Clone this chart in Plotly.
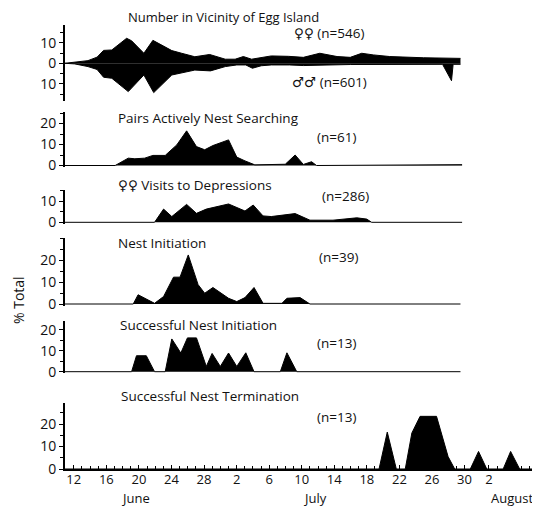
import plotly.graph_objects as go

# ---------------- data (x = day counted from 1 June; July d = 30+d, Aug d = 61+d) ----------------
fem_days = [10.92, 12.13, 13.74, 14.86, 15.66, 16.67, 18.49, 19.1, 20.61, 21.72, 24.04, 25.25, 26.87,
            28.69, 29.7, 30.61, 31.82, 32.83, 33.84, 35.04, 36.26, 38.38, 40.2, 42.22, 44.34, 45.96,
            47.37, 48.79, 50.81, 54.95, 57.77, 59.5]
fem_vals = [0, 0.5, 1.3, 3, 6.3, 6.5, 12.2, 11, 4.9, 11.2, 6.2, 4.9, 3.2,
            4.3, 3, 2, 2, 3.3, 2, 2.8, 3.6, 3.4, 2.9, 4.9, 3.3, 2.9,
            4.9, 4.1, 3.3, 2.7, 2.4, 2.4]

male_days = [10.92, 12.13, 13.74, 14.86, 15.66, 16.67, 18.69, 20.61, 21.82, 24.04, 26.87, 28.79, 30.61,
             32.02, 33.13, 33.94, 35.04, 36.26, 38.48, 40.2, 45.96, 50.81, 57.3, 58.4, 58.6, 59.5]
male_vals = [0, -0.3, -1.6, -3, -6.8, -7.3, -13.8, -5.7, -14.3, -5.7, -3.3, -3.7, -1.6,
             -0.8, -0.8, -2.4, -1.2, -0.8, -0.8, -1.1, -0.6, -0.5, -0.5, -8.5, -0.5, -0.5]

search_days = [10.92, 17.08, 18.69, 19.5, 20.71, 21.72, 23.23, 24.65, 25.86, 27.07, 28.08, 29.09, 31.01,
               32.02, 33.03, 34.24, 37.98, 39.19, 40.2, 41.21, 41.82, 59.7]
search_vals = [0, 0, 3.5, 3.2, 3.5, 4.8, 4.8, 9.8, 16.5, 9, 7.5, 9.5, 12.2,
               4, 2.2, 0.3, 0.6, 5, 0.5, 1.8, 0, 0.4]

visit_days = [10.92, 21.92, 23.03, 24.04, 25.86, 27.07, 28.28, 31.01, 33.03, 34.04, 35.25, 36.26, 39.19,
              41.01, 43.84, 46.77, 47.98, 48.59, 59.7]
visit_vals = [0, 0, 6.2, 2.7, 8.4, 4.2, 6.2, 8.6, 5.3, 8.1, 3, 2.7, 4.1,
              1, 1, 2.1, 1.5, 0, 0]

init_days = [10.92, 19.3, 19.9, 21.92, 23.03, 24.25, 25.05, 26.06, 27.27, 28.08, 29.09, 31.01, 32.02,
             33.03, 34.14, 35.25, 37.57, 38.18, 39.8, 41.01, 59.5]
init_vals = [0, 0, 4.2, 0.3, 3.4, 12.2, 12.2, 22.3, 8.8, 4.9, 7.5, 2.6, 1.1,
             2.9, 7.5, 0.3, 0.3, 2.6, 2.9, 0, 0]

succ_init_days = [10.92, 19.1, 19.7, 20.91, 21.92, 23.23, 24.04, 25.15, 25.96, 27.07, 28.28, 28.99, 30.0,
                  31.01, 32.02, 33.13, 34.14, 37.37, 38.18, 39.39, 59.5]
succ_init_vals = [0, 0, 7.6, 7.6, 0, 0, 15.6, 8.9, 16.1, 16.1, 2.5, 8.7, 2.5,
                  8.9, 2.5, 9, 0, 0, 9, 0, 0]

succ_term_days = [10.92, 49.5, 50.51, 51.62, 52.72, 53.53, 54.54, 56.56, 57.98, 58.79, 60.71, 61.72,
                  62.73, 64.75, 65.66, 66.77, 69.27]
succ_term_vals = [0, 0, 16.4, 0, 0, 16, 23.4, 23.4, 5.5, 0, 0, 7.8,
                  0, 0, 7.8, 0, 0]

x_tick_days = [12, 16, 20, 24, 28, 32, 36, 40, 44, 48, 52, 56, 60, 63]
x_tick_text = ["12", "16", "20", "24", "28", "2", "6", "10", "14", "18", "22", "26", "30", "2"]

panel_titles = ["Number in Vicinity of Egg Island", "Pairs Actively Nest Searching",
                "\u2640\u2640 Visits to Depressions", "Nest Initiation",
                "Successful Nest Initiation", "Successful Nest Termination"]
n_labels = ["(n=61)", "(n=286)", "(n=39)", "(n=13)", "(n=13)"]

# ---------------- layout geometry ----------------
W, H = 540, 507
OFF = 8                      # page body margin offset (screen px -> figure px)
L = 65 - OFF                 # left spine at screen x=65
R = OFF                      # axis runs to screen x=540
FONT = "Open Sans, DejaVu Sans, sans-serif"
INK = "#111111"

def py(px):
    return 1 - (px - OFF) / H

def pxx(px):
    return (px - OFF - L) / (W - L - R)

# (zero pixel, pixels per unit, ymin, ymax, tickvals, ticktext)  -- screen pixels
panels = [
    (63.3, 2.05, -18.5, 18.5, [-10, 0, 10], ["10", "0", "10"]),
    (165.5, 2.1, -0.8, 25.5, [0, 10, 20], ["0", "10", "20"]),
    (222.3, 2.13, -0.8, 15.2, [0, 10], ["0", "10"]),
    (304.0, 2.2, -0.8, 30.0, [0, 10, 20], ["0", "10", "20"]),
    (371.7, 2.1, -0.8, 24.0, [0, 10, 20], ["0", "10", "20"]),
    (469.0, 2.25, 0.0, 29.2, [0, 10, 20], ["0", "10", "20"]),
]

fig = go.Figure()

series = [
    (1, fem_days, fem_vals),
    (1, male_days, male_vals),
    (2, search_days, search_vals),
    (3, visit_days, visit_vals),
    (4, init_days, init_vals),
    (5, succ_init_days, succ_init_vals),
    (6, succ_term_days, succ_term_vals),
]
for k, xs, ys in series:
    fig.add_trace(go.Scatter(
        x=xs, y=ys, xaxis="x", yaxis="y" if k == 1 else f"y{k}",
        mode="lines", line=dict(color="black", width=1),
        fill="tozeroy", fillcolor="black", hoverinfo="skip", showlegend=False,
    ))

layout = dict(
    width=W, height=H,
    margin=dict(l=L, r=R, t=0, b=0, autoexpand=False),
    paper_bgcolor="white", plot_bgcolor="rgba(0,0,0,0)",
    font=dict(family=FONT, color=INK, size=12),
    showlegend=False,
    xaxis=dict(
        domain=[0, 1], anchor="y6", range=[10.92, 69.27],
        showline=True, linecolor="black", linewidth=2,
        ticks="inside", ticklen=4, tickwidth=1.2, tickcolor="black",
        tickmode="array", tickvals=x_tick_days, ticktext=x_tick_text,
        tickfont=dict(size=13, family=FONT, color=INK),
        ticklabelstandoff=-3,
        minor=dict(ticks="inside", tick0=0, dtick=1, ticklen=3, tickwidth=1, tickcolor="black"),
        showgrid=False, zeroline=False, fixedrange=True, automargin=False,
    ),
)

for i, (z, ppu, lo, hi, tv, tt) in enumerate(panels, start=1):
    top = z - hi * ppu
    bot = z - lo * ppu
    name = "yaxis" if i == 1 else f"yaxis{i}"
    layout[name] = dict(
        domain=[py(bot), py(top)], anchor="x", range=[lo, hi],
        showline=True, linecolor="black", linewidth=2,
        ticks="outside", ticklen=4, tickwidth=1.2, tickcolor="black",
        tickmode="array", tickvals=tv, ticktext=tt,
        tickfont=dict(size=14, family=FONT, color=INK),
        minor=dict(ticks="outside", tick0=0, dtick=5, ticklen=3, tickwidth=1, tickcolor="black"),
        showgrid=False, zeroline=False, fixedrange=True, automargin=False,
    )

fig.update_layout(**layout)

ann = []
def text(s, x_px, y_px, xanchor="center", size=13.5, angle=0):
    ann.append(dict(text=s, x=pxx(x_px), y=py(y_px), xref="paper", yref="paper",
                    xanchor=xanchor, yanchor="middle", showarrow=False, textangle=angle,
                    borderpad=0,
                    font=dict(size=size, family=FONT, color=INK)))

# panel titles
text(panel_titles[0], 223, 17, size=13)
text(panel_titles[1], 117, 118, "left")
text(panel_titles[2], 117, 185, "left")
text(panel_titles[3], 117, 243, "left")
text(panel_titles[4], 119, 325, "left")
text(panel_titles[5], 120, 396, "left")
# sample sizes
text("\u2640\u2640 (n=546)", 329, 33)
text("\u2642\u2642 (n=601)", 329, 82)
text(n_labels[0], 336, 137)
text(n_labels[1], 345, 196)
text(n_labels[2], 338, 257)
text(n_labels[3], 336, 343)
text(n_labels[4], 336, 417)
# months
text("June", 135, 498, size=13)
text("July", 315, 498, size=13)
text("August", 512, 498, size=13)
# y title
text("% Total", 18, 300, size=14, angle=-90)

fig.update_layout(annotations=ann)
fig.write_html("out.html")
